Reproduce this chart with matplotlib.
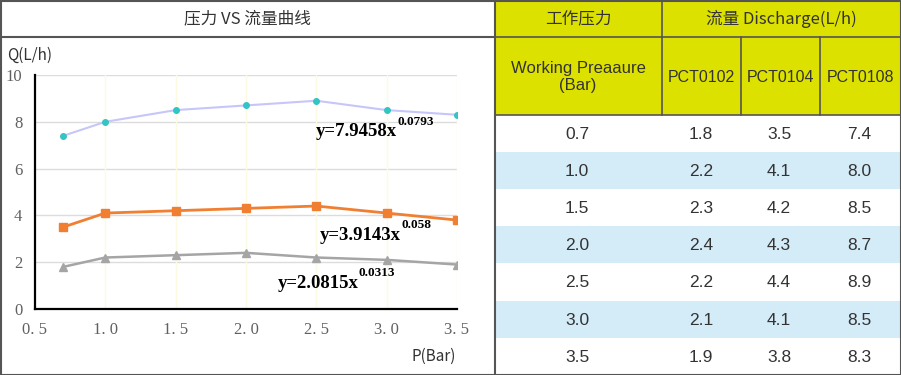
import matplotlib
matplotlib.use("Agg")
import matplotlib.pyplot as plt
from matplotlib.patches import Rectangle

plt.rcParams["font.family"] = ["Noto Sans CJK SC", "DejaVu Sans"]

pressure = [0.7, 1.0, 1.5, 2.0, 2.5, 3.0, 3.5]
pct0102 = [1.8, 2.2, 2.3, 2.4, 2.2, 2.1, 1.9]
pct0104 = [3.5, 4.1, 4.2, 4.3, 4.4, 4.1, 3.8]
pct0108 = [7.4, 8.0, 8.5, 8.7, 8.9, 8.5, 8.3]
models = ["PCT0102", "PCT0104", "PCT0108"]
fit_labels = [("y=2.0815x", "0.0313"), ("y=3.9143x", "0.058"), ("y=7.9458x", "0.0793")]
x_ticks = [0.5, 1.0, 1.5, 2.0, 2.5, 3.0, 3.5]
x_tick_labels = ["0. 5", "1. 0", "1. 5", "2. 0", "2. 5", "3. 0", "3. 5"]
y_ticks = [0, 2, 4, 6, 8, 10]

W, H = 901, 375
YELLOW = "#dde100"
BLUE = "#d4ebf8"
BORDER = "#555555"
TXT = "#333333"

fig = plt.figure(figsize=(W / 100, H / 100), dpi=100)

# pixel-space overlay for frame + table
bg = fig.add_axes([0, 0, 1, 1])
bg.set_xlim(0, W)
bg.set_ylim(H, 0)
bg.axis("off")

# left panel title
bg.text(247, 19, "压力 VS 流量曲线", ha="center", va="center", fontsize=12, color=TXT)
bg.plot([0, 494], [37, 37], color=BORDER, lw=1.5)
bg.text(7, 55, "Q(L/h)", ha="left", va="center", fontsize=11, color=TXT)
bg.text(434, 356, "P(Bar)", ha="center", va="center", fontsize=11, color=TXT)

# table header
col_edges = [495, 662, 741, 820, 901]
bg.add_patch(Rectangle((495, 0), W - 495, 115, facecolor=YELLOW, edgecolor="none"))
bg.plot([495, W], [37, 37], color=BORDER, lw=1.2)
bg.plot([495, W], [115, 115], color=BORDER, lw=1.2)
bg.plot([662, 662], [0, 115], color=BORDER, lw=1.2)
for cx in col_edges[2:4]:
    bg.plot([cx, cx], [37, 115], color=BORDER, lw=1.2)
bg.text(578, 19, "工作压力", ha="center", va="center", fontsize=12, color=TXT)
bg.text(781, 19, "流量 Discharge(L/h)", ha="center", va="center", fontsize=12, color=TXT)
bg.text(578, 77, "Working Preaaure\n(Bar)", ha="center", va="center", fontsize=12,
        color=TXT, family="Liberation Sans", linespacing=1.1)
for i, m in enumerate(models):
    bg.text((col_edges[i + 1] + col_edges[i + 2]) / 2, 77, m, ha="center", va="center",
            fontsize=11.5, color=TXT, family="Liberation Sans")

# table body
row_h = 37.1
centers = [577, 701, 779, 859]
for r, p in enumerate(pressure):
    top = 115 + r * row_h
    if r % 2 == 1:
        bg.add_patch(Rectangle((495, top), W - 495, row_h, facecolor=BLUE, edgecolor="none"))
    vals = [f"{p:.1f}", f"{pct0102[r]:.1f}", f"{pct0104[r]:.1f}", f"{pct0108[r]:.1f}"]
    for cx, v in zip(centers, vals):
        bg.text(cx, top + row_h / 2 + 1, v, ha="center", va="center", fontsize=12.5,
                color=TXT, family="Liberation Sans")

# frame
bg.plot([494.5, 494.5], [0, H], color=BORDER, lw=1.5)
bg.add_patch(Rectangle((0.5, 0.5), W - 1, H - 1, facecolor="none", edgecolor=BORDER, lw=1.5))

# chart
x0, x1, y0, y1 = 35, 457, 309, 75
ax = fig.add_axes([x0 / W, (H - y0) / H, (x1 - x0) / W, (y0 - y1) / H])
ax.set_facecolor("none")
ax.set_xlim(0.5, 3.5)
ax.set_ylim(0, 10)
for yt in y_ticks[1:]:
    ax.axhline(yt, color="#dcdcdc", lw=1, zorder=0)
for xt in x_ticks[1:]:
    ax.axvline(xt, color="#fbfbe4", lw=1, zorder=0)

ax.plot(pressure, pct0108, color="#c6c6fa", lw=1.5, marker="o", markersize=4,
        markerfacecolor="#33c4c4", markeredgecolor="#33c4c4", zorder=3)
ax.plot(pressure, pct0104, color="#f07f32", lw=2, marker="s", markersize=6,
        markerfacecolor="#f07f32", markeredgecolor="#f07f32", zorder=3)
ax.plot(pressure, pct0102, color="#a5a5a5", lw=1.8, marker="^", markersize=6,
        markerfacecolor="#a5a5a5", markeredgecolor="#a5a5a5", zorder=3)

ax.set_xticks(x_ticks)
ax.set_xticklabels(x_tick_labels)
ax.set_yticks(y_ticks)
ax.tick_params(length=0, labelsize=12, labelcolor="#606060", pad=9)
for lab in ax.get_xticklabels() + ax.get_yticklabels():
    lab.set_family("Liberation Serif")
for s in ["top", "right"]:
    ax.spines[s].set_visible(False)
for s in ["left", "bottom"]:
    ax.spines[s].set_linewidth(1.6)
    ax.spines[s].set_color("black")

# fitted-curve labels, drawn at figure level so they sit above the lines
fit_pos = [(278, 283), (320, 235), (316, 132)]
for (main, sup), (px, py) in zip(fit_labels, fit_pos):
    t = fig.text(px / W, 1 - py / H, main, ha="left", va="center", fontsize=13.5,
                 fontweight="bold", family="Liberation Serif", color="black", zorder=10)
    fig.canvas.draw()
    bb = t.get_window_extent()
    fig.text(bb.x1 / fig.bbox.width, 1 - (py - 10) / H, sup, ha="left", va="center",
             fontsize=9.5, fontweight="bold", family="Liberation Serif", color="black",
             zorder=10)

fig.savefig("out.png", dpi=100)
